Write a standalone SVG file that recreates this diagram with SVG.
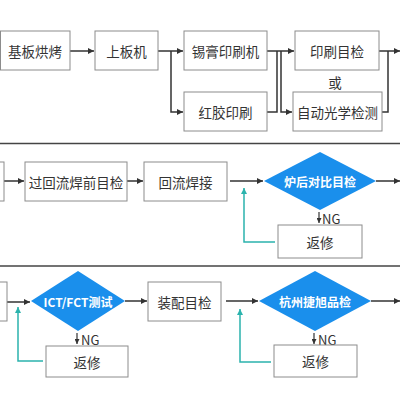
<svg xmlns="http://www.w3.org/2000/svg" width="400" height="400" viewBox="0 0 400 400">
<style>
.box{fill:#fff;stroke:#8c8c8c;stroke-width:1}
.dia{fill:#1a8fec}
.t{font-family:"Noto Sans CJK SC","Liberation Sans",sans-serif;font-size:13.5px;fill:#333;text-anchor:middle;dominant-baseline:central}
.dt{font-family:"Noto Sans CJK SC","Liberation Sans",sans-serif;font-size:12px;font-weight:bold;fill:#fff;text-anchor:middle;dominant-baseline:central}
.ng{font-family:"Noto Sans CJK SC","Liberation Sans",sans-serif;font-size:13px;fill:#333;dominant-baseline:central}
.ln{fill:none;stroke:#333;stroke-width:1.5}
.ar{fill:none;stroke:#333;stroke-width:1.5;marker-end:url(#ah)}
.nga{fill:none;stroke:#333;stroke-width:1.2;marker-end:url(#ahs)}
.tl{fill:none;stroke:#2bb3ad;stroke-width:1.5;marker-end:url(#aht)}
.sep{stroke:#444;stroke-width:1.5}
</style>
<defs>
<marker id="ah" markerWidth="6" markerHeight="6" refX="6" refY="3" orient="auto" markerUnits="userSpaceOnUse"><path d="M0,0 L6,3 L0,6 Z" fill="#333"/></marker>
<marker id="ahs" markerWidth="5" markerHeight="5" refX="5" refY="2.5" orient="auto" markerUnits="userSpaceOnUse"><path d="M0,0 L5,2.5 L0,5 Z" fill="#333"/></marker>
<marker id="aht" markerWidth="6" markerHeight="6" refX="6" refY="3" orient="auto" markerUnits="userSpaceOnUse"><path d="M0,0 L6,3 L0,6 Z" fill="#2bb3ad"/></marker>
</defs>
<g id="separators">
<line class="sep" x1="0" y1="143.5" x2="400" y2="143.5"/>
<line class="sep" x1="0" y1="266" x2="400" y2="266"/>
</g>
<g id="connectors">
<path class="ar" d="M70,51 H94"/>
<path class="ar" d="M158,51 H183"/>
<path class="ar" d="M171,51 V112 H183"/>
<path class="ar" d="M267,51 H294"/>
<path class="ar" d="M281,51 V112 H292"/>
<path class="ln" d="M267,112 H277 V51"/>
<path class="ar" d="M379,51 H400"/>
<path class="ln" d="M382,112 H388 V51"/>
<path class="ar" d="M4,181 H24"/>
<path class="ar" d="M127,181 H143"/>
<path class="ar" d="M230,181 H263"/>
<path class="ar" d="M376,181 H400"/>
<path class="nga" d="M319,212 V223"/>
<path class="tl" d="M275,242 H244 V188"/>
<path class="ar" d="M7,302 H30"/>
<path class="ar" d="M125,301 H147"/>
<path class="ar" d="M226,301 H258"/>
<path class="ar" d="M371,301 H400"/>
<path class="nga" d="M77,333 V344"/>
<path class="nga" d="M314,333 V344"/>
<path class="tl" d="M43,361 H18 V307"/>
<path class="tl" d="M271,362 H240 V309"/>
</g>
<g id="n1"><rect class="box" x="0.5" y="31" width="69.5" height="39"/><text class="t" x="35" y="51">基板烘烤</text></g>
<g id="n2"><rect class="box" x="95" y="31" width="63" height="39"/><text class="t" x="126.5" y="51">上板机</text></g>
<g id="n3"><rect class="box" x="184" y="31" width="83" height="39"/><text class="t" x="225.5" y="51">锡膏印刷机</text></g>
<g id="n4"><rect class="box" x="184" y="92" width="83" height="39"/><text class="t" x="225.5" y="112">红胶印刷</text></g>
<g id="n5"><rect class="box" x="295" y="31" width="84" height="39"/><text class="t" x="337" y="51">印刷目检</text></g>
<g id="or"><text class="t" x="335" y="82">或</text></g>
<g id="n6"><rect class="box" x="293" y="92" width="89" height="39"/><text class="t" x="337.5" y="112">自动光学检测</text></g>
<g id="n7"><rect class="box" x="-20" y="162" width="24" height="39"/></g>
<g id="n8"><rect class="box" x="25" y="162" width="102" height="39"/><text class="t" x="76" y="181.5">过回流焊前目检</text></g>
<g id="n9"><rect class="box" x="144" y="162" width="83" height="39"/><text class="t" x="185.5" y="181.5">回流焊接</text></g>
<g id="d1"><polygon class="dia" points="320,152 376,181 320,210 264,181"/><text class="dt" x="320" y="181">炉后对比目检</text></g>
<g id="ng1"><text class="ng" x="322" y="218">NG</text></g>
<g id="r1"><rect class="box" x="278" y="225" width="84" height="33"/><text class="t" x="320" y="241.5">返修</text></g>
<g id="n10"><rect class="box" x="-20" y="282" width="27" height="39"/></g>
<g id="d2"><polygon class="dia" points="78,271 125,301 78,331 31,301"/><text class="dt" x="78" y="301">ICT/FCT测试</text></g>
<g id="ng2"><text class="ng" x="81" y="339">NG</text></g>
<g id="r2"><rect class="box" x="46" y="346" width="82" height="31"/><text class="t" x="87" y="361.5">返修</text></g>
<g id="n11"><rect class="box" x="148" y="282" width="73" height="39"/><text class="t" x="184.5" y="301.5">装配目检</text></g>
<g id="d3"><polygon class="dia" points="315,271 371,301 315,331 259,301"/><text class="dt" x="315" y="301">杭州捷旭品检</text></g>
<g id="ng3"><text class="ng" x="318" y="339">NG</text></g>
<g id="r3"><rect class="box" x="274" y="345" width="83" height="32"/><text class="t" x="315.5" y="361">返修</text></g>
</svg>
